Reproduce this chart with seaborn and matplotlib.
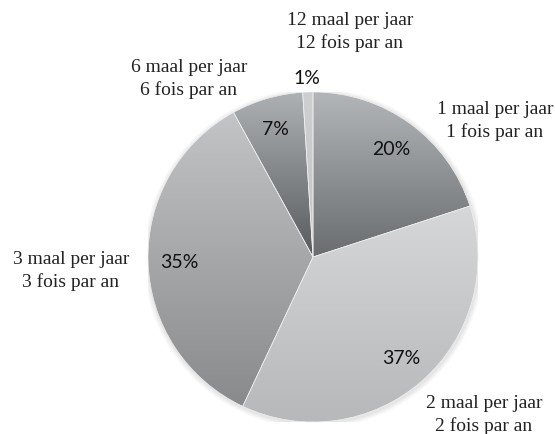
import numpy as np
import matplotlib
matplotlib.use("Agg")
import matplotlib.pyplot as plt
import seaborn as sns
from matplotlib.colors import LinearSegmentedColormap
from matplotlib.patches import Circle

# ---- data ----
labels_nl = ["1 maal per jaar", "2 maal per jaar", "3 maal per jaar",
             "6 maal per jaar", "12 maal per jaar"]
labels_fr = ["1 fois par an", "2 fois par an", "3 fois par an",
             "6 fois par an", "12 fois par an"]
values = [20, 37, 35, 7, 1]

# ---- style ----
grad_top = ["#b3b6b8", "#d6d7d8", "#c2c4c5", "#aeb1b3", "#cdcfd0"]
grad_bot = ["#6a6d6f", "#b6b8b9", "#888a8b", "#585b5d", "#c3c5c7"]
# label positions (data coords, pie radius = 1)
label_pos = [(1.103, 0.83), (1.036, -0.95), (-1.467, -0.076),
             (-0.752, 1.085), (0.224, 1.372)]
line_gap = 0.139

sns.set_theme(style="white")
plt.rcParams["font.family"] = ["Liberation Serif", "DejaVu Serif"]

fig = plt.figure(figsize=(5.55, 4.35), dpi=100)
fig.patch.set_facecolor("white")
ax = fig.add_axes([148 / 555, 12 / 435, 330 / 555, 330 / 435])

wedges, texts, autotexts = ax.pie(
    values, startangle=90, counterclock=False, radius=1,
    autopct=lambda p: f"{p:.0f}%", pctdistance=0.81,
    colors=["none"] * len(values),
    wedgeprops=dict(edgecolor="#eeeeee", linewidth=0.5, zorder=3),
    textprops=dict(family="Lato", fontsize=14, color="#111111"))

# soft shadow around the pie
for rr, a in [(1.03, 0.05), (1.02, 0.07), (1.01, 0.09)]:
    ax.add_patch(Circle((0.005, -0.008), rr, facecolor="#888888",
                        edgecolor="none", alpha=a, zorder=0.5))

# gradient fill per wedge (light at top, dark at bottom)
for w, c0, c1 in zip(wedges, grad_top, grad_bot):
    ext = w.get_path().get_extents()
    cmap = LinearSegmentedColormap.from_list("g", [c0, c1])
    grad = np.linspace(0, 1, 256).reshape(-1, 1)
    im = ax.imshow(grad, cmap=cmap, aspect="auto", interpolation="bilinear",
                   extent=(ext.x0, ext.x1, ext.y0, ext.y1), origin="upper",
                   zorder=2)
    im.set_clip_path(w)

# move the tiny slice's label outside
t = autotexts[4]
x, y = t.get_position()
t.set_position((x * 1.09 / 0.81, y * 1.09 / 0.81))
for t in autotexts:
    t.set_zorder(5)

for (px, py), nl, fr in zip(label_pos, labels_nl, labels_fr):
    ax.text(px, py + line_gap / 2, nl, ha="center", va="center",
            fontsize=14, color="#222222", clip_on=False)
    ax.text(px, py - line_gap / 2, fr, ha="center", va="center",
            fontsize=14, color="#222222", clip_on=False)

ax.set_xlim(-1, 1)
ax.set_ylim(-1, 1)
ax.set_aspect("equal")
ax.axis("off")

fig.savefig("out.png", dpi=100, facecolor="white")
